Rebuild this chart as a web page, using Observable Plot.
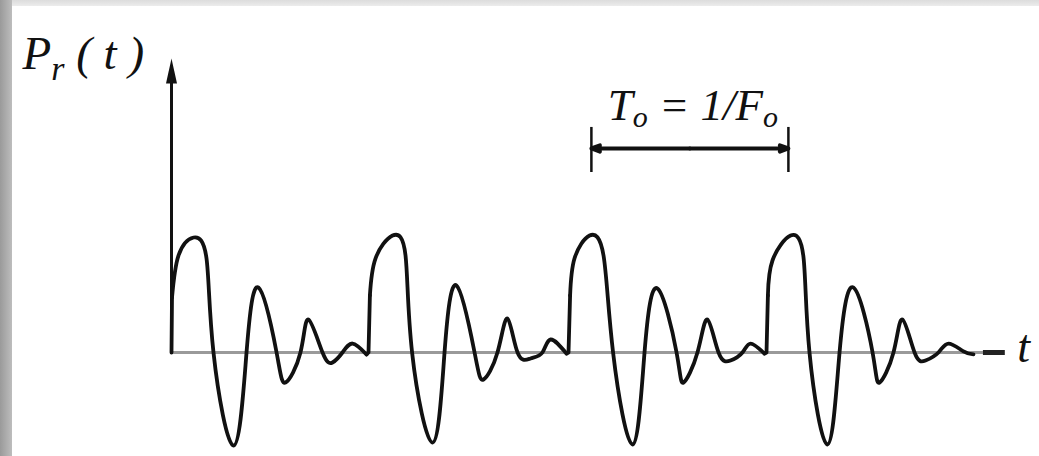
<!DOCTYPE html>
<html>
<head>
<meta charset="utf-8">
<script src="https://cdn.jsdelivr.net/npm/d3@7"></script>
<script src="https://cdn.jsdelivr.net/npm/@observablehq/plot@0.6"></script>
<style>
  html, body { margin: 0; padding: 0; background: #fff; }
  #wrap { position: relative; width: 1039px; height: 456px; overflow: hidden; background: #fff; }
  #chart { position: absolute; left: 0; top: 0; }
  #edgeTop { position: absolute; left: 0; top: 0; width: 1039px; height: 6px; background: linear-gradient(to bottom, #dcdcdc, #ececec); }
  #edgeLeft { position: absolute; left: 0; top: 0; width: 12px; height: 456px; background: linear-gradient(to right, #9a9a9a, #bdbdbd); }
</style>
</head>
<body>
<div id="wrap"><div id="chart"></div><div id="edgeTop"></div><div id="edgeLeft"></div></div>
<script>
// Time in units of the period T0; amplitude relative to the main peak.
// Each pulse: jump base, top of the jump, then shoulders/peaks/zero crossings/troughs.
const pulse1T = [0, 0.0025, 0.035, 0.111, 0.176, 0.211, 0.312, 0.377, 0.437, 0.528, 0.573, 0.648, 0.688, 0.759, 0.809, 0.859, 0.910, 0.980];
const pulse1V = [0, 0.478, 0.843, 1.0, 0.817, 0, -0.809, 0, 0.565, 0, -0.261, 0, 0.287, 0, -0.087, 0, 0.078, -0.017];

const pulse2T = [0.990, 0.997, 1.025, 1.111, 1.176, 1.209, 1.312, 1.372, 1.432, 1.523, 1.568, 1.638, 1.688, 1.739, 1.804, 1.864, 1.905, 1.985];
const pulse2V = [0, 0.496, 0.817, 1.017, 0.843, 0, -0.783, 0, 0.583, 0, -0.235, 0, 0.296, 0, -0.052, 0, 0.113, -0.009];

const pulse3T = [1.995, 2.003, 2.025, 2.101, 2.171, 2.219, 2.317, 2.377, 2.442, 2.538, 2.573, 2.643, 2.693, 2.749, 2.809, 2.869, 2.910, 2.980];
const pulse3V = [0, 0.496, 0.817, 1.017, 0.843, 0, -0.800, 0, 0.557, 0, -0.261, 0, 0.287, 0, -0.070, 0, 0.078, -0.009];

const pulse4T = [2.990, 2.997, 3.020, 3.111, 3.176, 3.206, 3.296, 3.357, 3.427, 3.523, 3.558, 3.628, 3.673, 3.734, 3.789, 3.854, 3.905, 3.980, 4.030];
const pulse4V = [0, 0.496, 0.800, 1.017, 0.826, 0, -0.800, 0, 0.565, 0, -0.261, 0, 0.287, 0, -0.070, 0, 0.078, 0.010, -0.017];

// Annotation values
const axisTop = 2.557;          // tip of the P_r(t) axis arrow
const baselineEnd = 4.08;       // end of the grey time axis
const axisArrowEnd = 4.19;      // end of the dark arrow stub
const bracketStart = 2.11;      // period bracket (peak to peak)
const bracketEnd = 3.10;
const bracketLevel = 1.774;
const bracketTickLow = 1.565;
const bracketTickHigh = 1.957;

const yLabelParts = ["P", "r", " ( t )"];
const periodLabelParts = ["T", "o", " = 1/F", "o"];
const xLabel = "t";

const pulses = [[pulse1T, pulse1V], [pulse2T, pulse2V], [pulse3T, pulse3V], [pulse4T, pulse4V]];
const smooth = [];   // the oscillating part of each pulse
const jumps = [];    // the sharp rise at the start of each pulse
pulses.forEach(([T, V], k) => {
  if (k > 0) {
    const [PT, PV] = pulses[k - 1];
    jumps.push({t: PT[PT.length - 1], v: PV[PV.length - 1], k});
  }
  jumps.push({t: T[0], v: V[0], k});
  jumps.push({t: T[1], v: V[1], k});
  for (let i = 1; i < T.length; i++) smooth.push({t: T[i], v: V[i], k});
});

const font = {fontFamily: "'Liberation Serif', 'DejaVu Serif', serif", fontStyle: "italic", fontSize: 46, fill: "#111"};

// narrow filled arrowhead, tip at the anchor point
const arrowHead = {
  draw(context) {
    context.moveTo(0, 0);
    context.lineTo(-5.5, 25);
    context.lineTo(5.5, 25);
    context.closePath();
  }
};

const svg = Plot.plot({
  width: 1039,
  height: 456,
  style: {background: "transparent"},
  x: {domain: [0, 4.2], range: [171, 1006.8], axis: null},
  y: {domain: [0, 1], range: [352, 237], axis: null},
  marks: [
    Plot.ruleY([0], {x1: 0, x2: baselineEnd, stroke: "#9a9a9a", strokeWidth: 3}),
    Plot.ruleY([0], {x1: baselineEnd, x2: axisArrowEnd, stroke: "#222", strokeWidth: 5}),
    Plot.ruleX([0], {y1: 0, y2: axisTop - 0.15, stroke: "#111", strokeWidth: 3}),
    Plot.dot([0], {x: 0, y: axisTop, symbol: arrowHead, fill: "#111", stroke: "none", r: 5}),
    Plot.line(jumps, {x: "t", y: "v", z: "k", curve: "linear", stroke: "#111", strokeWidth: 3.8, strokeLinejoin: "round"}),
    Plot.line(smooth, {x: "t", y: "v", z: "k", curve: "natural", stroke: "#111", strokeWidth: 3.8, strokeLinejoin: "round"}),
    Plot.arrow([bracketStart, bracketEnd], {x1: (bracketStart + bracketEnd) / 2, x2: d => d, y1: bracketLevel, y2: bracketLevel, stroke: "#111", strokeWidth: 4, headLength: 3.4, headAngle: 40}),
    Plot.ruleX([bracketStart, bracketEnd], {y1: bracketTickLow, y2: bracketTickHigh, stroke: "#111", strokeWidth: 2.5}),
    Plot.text([yLabelParts.join("")], {x: 0, y: axisTop, dx: -149, dy: 11, textAnchor: "start", lineAnchor: "bottom", ...font, fontSize: 47}),
    Plot.text([periodLabelParts.join("")], {x: (bracketStart + bracketEnd) / 2, y: bracketLevel, dx: 3, dy: -28, textAnchor: "middle", lineAnchor: "bottom", ...font, fontSize: 45}),
    Plot.text([xLabel], {x: axisArrowEnd, y: 0, dx: 12, dy: 9, textAnchor: "start", lineAnchor: "bottom", ...font})
  ]
});

const sel = d3.select(svg);
function subscripted(parts, subSize, shift) {
  const joined = parts.join("");
  sel.selectAll("text").filter(function () { return this.textContent === joined; }).each(function () {
    const t = d3.select(this);
    t.text(null);
    parts.forEach((p, i) => {
      const sp = t.append("tspan").text(p);
      if (i % 2 === 1) { sp.attr("font-size", subSize).attr("dy", shift); }
      else if (i > 0) { sp.attr("dy", -shift); }
    });
  });
}
subscripted(yLabelParts, 34, 11);
subscripted(periodLabelParts, 30, 7);

document.getElementById("chart").appendChild(svg);
</script>
</body>
</html>
